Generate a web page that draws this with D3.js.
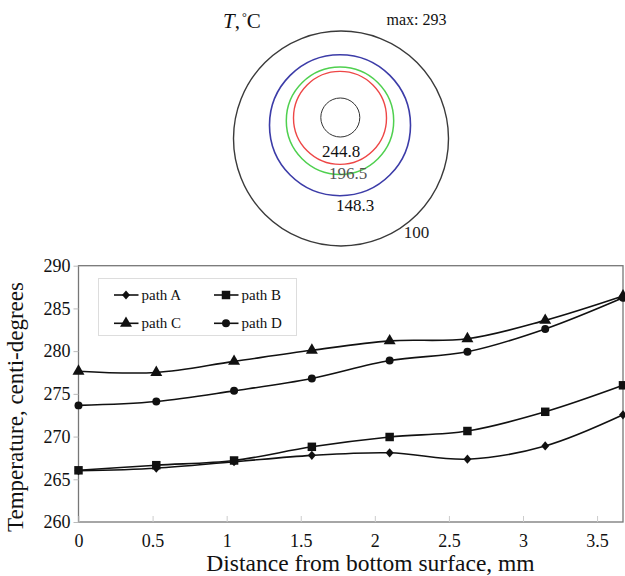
<!DOCTYPE html>
<html>
<head>
<meta charset="utf-8">
<script src="https://cdn.jsdelivr.net/npm/d3@7"></script>
<style>
  html, body { margin: 0; padding: 0; background: #fff; }
  svg, svg text { font-family: "Liberation Serif", "Times New Roman", serif !important; }
  svg { display: block; }
</style>
</head>
<body>
<svg id="chart" width="625" height="576"></svg>
<script>
// ---------------- data ----------------
const distances = [0, 0.525, 1.05, 1.575, 2.1, 2.625, 3.15, 3.675];
const pathA = [266.0, 266.3, 267.05, 267.8, 268.1, 267.35, 268.9, 272.55];
const pathB = [266.05, 266.65, 267.2, 268.8, 269.95, 270.65, 272.9, 276.0];
const pathC = [277.65, 277.5, 278.8, 280.1, 281.2, 281.45, 283.6, 286.45];
const pathD = [273.65, 274.1, 275.35, 276.8, 278.9, 279.93, 282.6, 286.25];
const seriesNames = ["path A", "path B", "path C", "path D"];
const xTicks = [0, 0.5, 1, 1.5, 2, 2.5, 3, 3.5];
const yTicks = [260, 265, 270, 275, 280, 285, 290];
const contourLabels = ["244.8", "196.5", "148.3", "100"];
const maxLabel = "max: 293";

// ---------------- layout ----------------
const svg = d3.select("#chart");
const L = 78.5, R = 623, T = 265.7, B = 522;
const x = d3.scaleLinear().domain([0, 3.675]).range([L, R]);
const y = d3.scaleLinear().domain([260, 290]).range([B, T]);

// ---------------- contour schematic ----------------
const rings = [
  { cx: 341, cy: 138.5, r: 107.5, color: "#3a3a3a", w: 1.4 },
  { cx: 340, cy: 125.2, r: 70.5, color: "#3c3ca8", w: 1.6 },
  { cx: 340, cy: 120.7, r: 53.7, color: "#4fd04f", w: 1.5 },
  { cx: 340, cy: 117.9, r: 46.5, color: "#ee4646", w: 1.4 },
  { cx: 340.3, cy: 117.5, r: 19.5, color: "#333", w: 1.0 }
];
const g0 = svg.append("g");
g0.selectAll("circle").data(rings).join("circle")
  .attr("cx", d => d.cx).attr("cy", d => d.cy).attr("r", d => d.r)
  .attr("fill", "none").attr("stroke", d => d.color).attr("stroke-width", d => d.w);

const labelPos = [
  { x: 341, y: 157, c: "#111" },
  { x: 348, y: 178.5, c: "#555" },
  { x: 355, y: 211, c: "#111" },
  { x: 416.5, y: 237.5, c: "#222" }
];
g0.selectAll("text.cl").data(contourLabels).join("text")
  .attr("class", "cl")
  .attr("x", (d, i) => labelPos[i].x).attr("y", (d, i) => labelPos[i].y)
  .attr("text-anchor", "middle").attr("font-size", 17)
  .attr("fill", (d, i) => labelPos[i].c).text(d => d);

const tt = g0.append("text").attr("x", 223).attr("y", 28).attr("font-size", 21).attr("fill", "#111");
tt.append("tspan").attr("font-style", "italic").text("T");
tt.append("tspan").text(",");
tt.append("tspan").attr("font-size", 12).attr("dy", -7).attr("dx", 2).text("°");
tt.append("tspan").attr("dy", 7).text("C");
g0.append("text").attr("x", 386.5).attr("y", 25).attr("font-size", 16).attr("fill", "#111").text(maxLabel);

// ---------------- plot frame ----------------
const gp = svg.append("g");
gp.append("rect").attr("x", L).attr("y", T).attr("width", R - L).attr("height", B - T)
  .attr("fill", "none").attr("stroke", "#777").attr("stroke-width", 1.3);

// axes (ticks + labels) through d3 axes
const yAxis = d3.axisLeft(y).tickValues(yTicks).tickSize(5).tickPadding(3).tickFormat(d3.format("d"));
const gy = gp.append("g").attr("transform", `translate(${L},0)`).call(yAxis);
gy.attr("font-family", null).attr("font-size", null);
gy.select(".domain").remove();
gy.selectAll(".tick line").attr("stroke", "#bbb");
gy.selectAll(".tick text").attr("font-size", 18).attr("fill", "#111");

const xAxis = d3.axisBottom(x).tickValues(xTicks).tickSize(-6).tickPadding(12)
  .tickFormat(d => String(d));
const gx = gp.append("g").attr("transform", `translate(0,${B})`).call(xAxis);
gx.attr("font-family", null).attr("font-size", null);
gx.select(".domain").remove();
gx.selectAll(".tick line").attr("stroke", "#ccc");
gx.selectAll(".tick text").attr("font-size", 18).attr("fill", "#111");

// axis titles
gp.append("text").attr("x", 370.5).attr("y", 571).attr("text-anchor", "middle")
  .attr("font-size", 23.5).attr("fill", "#111").text("Distance from bottom surface, mm");
gp.append("text").attr("transform", "translate(23,407) rotate(-90)").attr("text-anchor", "middle")
  .attr("font-size", 23).attr("fill", "#111").text("Temperature, centi-degrees");

// ---------------- series ----------------
const seriesVals = [pathA, pathB, pathC, pathD];
const diamond = { draw(ctx, size) { const r = Math.sqrt(size) / 2; ctx.moveTo(0, -r * 1.1); ctx.lineTo(r * 0.95, 0); ctx.lineTo(0, r * 1.1); ctx.lineTo(-r * 0.95, 0); ctx.closePath(); } };
const symbols = [diamond, d3.symbolSquare, d3.symbolTriangle, d3.symbolCircle];
const symSizes = [70, 72, 62, 50];
const line = d3.line().x(d => x(d[0])).y(d => y(d[1])).curve(d3.curveCatmullRom.alpha(0.5));
const series = seriesVals.map((vals, i) => ({ name: seriesNames[i], pts: distances.map((dd, j) => [dd, vals[j]]), i }));

const gs = gp.selectAll("g.series").data(series).join("g").attr("class", "series");
gs.append("path").attr("d", d => line(d.pts)).attr("fill", "none")
  .attr("stroke", "#111").attr("stroke-width", 1.6);
gs.each(function (s) {
  d3.select(this).selectAll("path.m").data(s.pts).join("path").attr("class", "m")
    .attr("transform", p => `translate(${x(p[0])},${y(p[1])})`)
    .attr("d", d3.symbol().type(symbols[s.i]).size(symSizes[s.i]))
    .attr("fill", "#111");
});

// ---------------- legend ----------------
const gl = gp.append("g");
gl.append("rect").attr("x", 98.5).attr("y", 278.5).attr("width", 198).attr("height", 57)
  .attr("fill", "#fff").attr("stroke", "#ddd").attr("stroke-width", 1);
const legPos = [[114, 295], [214, 295], [114, 323.3], [214, 323.3]];
const items = gl.selectAll("g.li").data(series).join("g").attr("class", "li")
  .attr("transform", d => `translate(${legPos[d.i][0]},${legPos[d.i][1]})`);
items.append("line").attr("x1", 0).attr("x2", 24.5).attr("y1", 0).attr("y2", 0)
  .attr("stroke", "#111").attr("stroke-width", 1.6);
items.append("path").attr("transform", "translate(12,0)")
  .attr("d", d => d3.symbol().type(symbols[d.i]).size(symSizes[d.i])())
  .attr("fill", "#111");
items.append("text").attr("x", 27.5).attr("y", 0).attr("dy", "0.33em")
  .attr("font-size", 15).attr("fill", "#111").text(d => d.name);
</script>
</body>
</html>
